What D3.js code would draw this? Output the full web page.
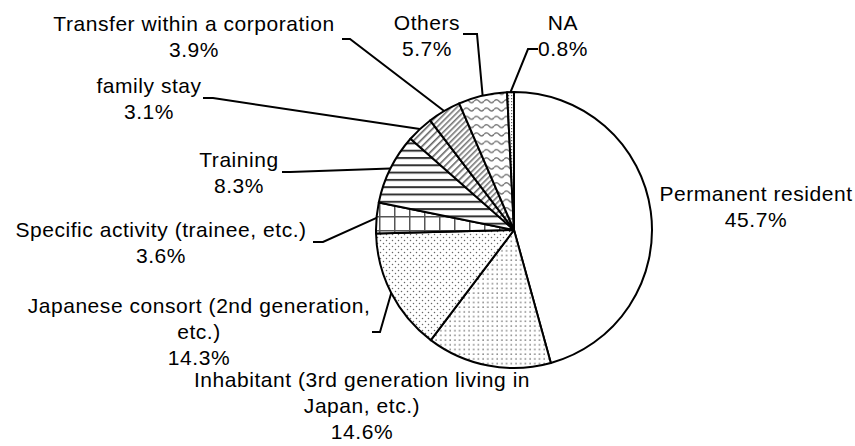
<!DOCTYPE html>
<html><head><meta charset="utf-8">
<script src="https://cdn.jsdelivr.net/npm/d3@7"></script>
<style>
html,body{margin:0;padding:0;background:#fff;}
svg text{font-family:"Liberation Sans",Arial,sans-serif;font-size:21px;letter-spacing:0.55px;fill:#000;}
</style></head>
<body><svg id="chart" width="855" height="446"></svg>
<script>
// ---- data ----
const categories = ["Permanent resident","Inhabitant (3rd generation living in Japan, etc.)","Japanese consort (2nd generation, etc.)","Specific activity (trainee, etc.)","Training","family stay","Transfer within a corporation","Others","NA"];
const shares = [45.7, 14.6, 14.3, 3.6, 8.3, 3.1, 3.9, 5.7, 0.8];
const labelLines = [
  ["Permanent resident"],
  ["Inhabitant (3rd generation living in","Japan, etc.)"],
  ["Japanese consort (2nd generation,","etc.)"],
  ["Specific activity (trainee, etc.)"],
  ["Training"],
  ["family stay"],
  ["Transfer within a corporation"],
  ["Others"],
  ["NA"]
];
const patternIds = ["none","dotsGrid","dotsStagger","grid","hlines","diagWide","diagDense","wave","fineDots"];

// ---- layout (label anchors) ----
const labelLayout = [
  {x:756, y:201, leader:null},
  {x:362, y:387, leader:null},
  {x:199, y:313, leader:{ax:372, ay:332, ex:380, ey:332}},
  {x:161, y:237, leader:{ax:313, ay:242, ex:323, ey:242}},
  {x:239, y:167, leader:{ax:282, ay:172, ex:290, ey:172}},
  {x:149, y:93,  leader:{ax:203, ay:98, ex:213, ey:98}},
  {x:194, y:31,  leader:{ax:342, ay:39, ex:350, ey:39}},
  {x:427, y:30,  leader:{ax:463, ay:34, ex:477, ey:34}},
  {x:563, y:30,  leader:{ax:538, ay:49, ex:528, ey:49}}
];
const lineH = 26;

const svg = d3.select("#chart");
const defs = svg.append("defs");
const cx = 514, cy = 230, R = 138;

// patterns
function pat(id, w, h, build){
  const p = defs.append("pattern").attr("id", id).attr("patternUnits","userSpaceOnUse")
    .attr("width", w).attr("height", h);
  p.append("rect").attr("width", w).attr("height", h).attr("fill","#fff");
  build(p);
}
pat("dotsGrid", 4.7, 4.7, p => p.append("circle").attr("cx",2).attr("cy",2).attr("r",0.75).attr("fill","#666"));
pat("dotsStagger", 6, 6, p => {
  p.append("circle").attr("cx",1.5).attr("cy",1.5).attr("r",0.75).attr("fill","#666");
  p.append("circle").attr("cx",4.5).attr("cy",4.5).attr("r",0.75).attr("fill","#666");
});
pat("grid", 15, 14, p => {
  p.append("line").attr("x1",0).attr("y1",0.75).attr("x2",15).attr("y2",0.75).attr("stroke","#555").attr("stroke-width",1.5);
  p.append("line").attr("x1",0.75).attr("y1",0).attr("x2",0.75).attr("y2",14).attr("stroke","#555").attr("stroke-width",1.5);
});
pat("hlines", 10, 7.3, p => p.append("rect").attr("x",0).attr("y",0).attr("width",10).attr("height",2).attr("fill","#333"));
pat("diagWide", 5, 5, p => {
  p.attr("patternTransform","rotate(45)");
  p.append("rect").attr("x",0).attr("y",0).attr("width",1.6).attr("height",5).attr("fill","#666");
});
pat("diagDense", 4, 4, p => {
  p.attr("patternTransform","rotate(45)");
  p.append("rect").attr("x",0).attr("y",0).attr("width",1.6).attr("height",4).attr("fill","#777");
});
pat("wave", 10, 8.3, p => p.append("path").attr("d","M0,4 Q2.5,1 5,4 T10,4").attr("fill","none").attr("stroke","#777").attr("stroke-width",1.4));
pat("fineDots", 3, 3, p => p.append("rect").attr("x",0).attr("y",0).attr("width",1.2).attr("height",1.2).attr("fill","#666"));

const pie = d3.pie().sort(null).value(d => d).startAngle(0).endAngle(2*Math.PI);
const arcs = pie(shares);
const arc = d3.arc().innerRadius(0).outerRadius(R);

const g = svg.append("g").attr("transform", `translate(${cx},${cy})`);
g.selectAll("path.slice").data(arcs).join("path")
  .attr("class","slice")
  .attr("d", arc)
  .attr("fill", (d,i) => patternIds[i] === "none" ? "#fff" : `url(#${patternIds[i]})`)
  .attr("stroke","#000").attr("stroke-width",2).attr("stroke-linejoin","round");

// leader lines
arcs.forEach((a,i) => {
  const L = labelLayout[i].leader;
  if (!L) return;
  const mid = (a.startAngle + a.endAngle)/2;
  const px = cx + R*Math.sin(mid), py = cy - R*Math.cos(mid);
  svg.append("polyline")
    .attr("points", `${L.ax},${L.ay} ${L.ex},${L.ey} ${px},${py}`)
    .attr("fill","none").attr("stroke","#000").attr("stroke-width",2);
});

// labels
labelLayout.forEach((lay,i) => {
  const lines = labelLines[i].concat([shares[i].toFixed(1) + "%"]);
  const t = svg.append("text").attr("text-anchor","middle");
  lines.forEach((s,k) => t.append("tspan").attr("x", lay.x).attr("y", lay.y + k*lineH).text(s));
});
</script>
</body></html>
